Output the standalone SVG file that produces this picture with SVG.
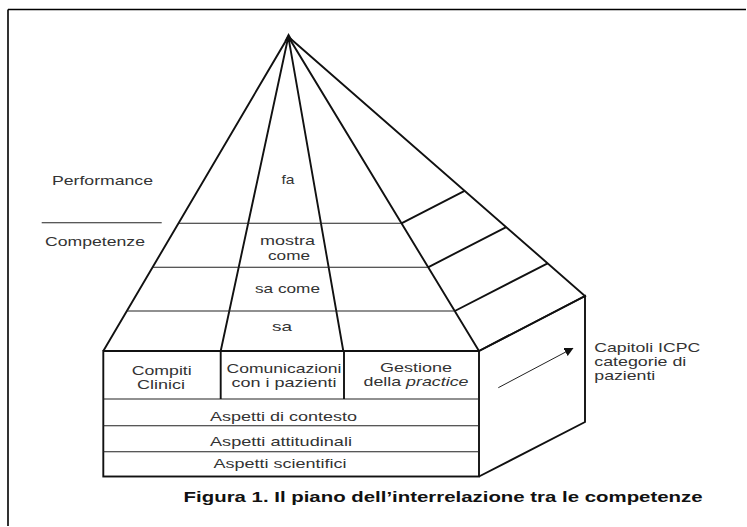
<svg xmlns="http://www.w3.org/2000/svg" width="747" height="527" viewBox="0 0 747 527">
<defs>
<style>
.t{font-family:"Liberation Sans",Arial,sans-serif;font-size:13px;fill:#333;}
.tm{text-anchor:middle;}
.cap{font-family:"Liberation Sans",Arial,sans-serif;font-size:15px;font-weight:bold;fill:#111;}
.e{stroke:#111;stroke-width:1.9;fill:none;stroke-linejoin:miter;}
.h{stroke:#222;stroke-width:1.1;fill:none;}
</style>
<marker id="ah" viewBox="0 0 10 10" refX="9" refY="5" markerWidth="9" markerHeight="9" markerUnits="userSpaceOnUse" orient="auto">
<path d="M0,0 L10,5 L0,10 z" fill="#111"/>
</marker>
</defs>
<rect width="747" height="527" fill="#fff"/>
<g id="frame">
<path d="M8,9.5 H746 M8,9.5 V526" stroke="#000" stroke-width="1.6" fill="none"/>
</g>
<g id="pyramid">
<polygon points="288.5,33 284.5,41 293,41" fill="#111"/>
<path class="e" d="M103.3,351 L288.3,36.7 L479,351"/>
<path class="e" d="M220.7,351 L288.3,36.7 L343.3,351"/>
<path class="e" d="M288.3,36.7 L585,296 L479,351"/>
<path class="h" d="M178.6,223.3 H401.4 M152.6,267.3 H428 M126.8,311 H454.8"/>
<path class="e" d="M401.4,223.3 L464.6,190.8 M428,267.3 L506.2,227.1 M454.8,311 L547.6,263.3"/>
</g>
<g id="base">
<rect x="103.3" y="351" width="375.7" height="125.5" class="e" stroke-width="1.6"/>
<path class="e" d="M103.3,351 H479"/>
<path class="h" d="M103.3,399 H479 M103.3,425.7 H479 M103.3,451.7 H479" stroke-width="1.3"/>
<path class="e" d="M220.7,351 V399 M344,351 V399" stroke-width="1.5"/>
</g>
<g id="side">
<path class="e" d="M479,351 L585,296 L585,422 L479,476.5" stroke-width="1.7"/>
</g>
<g id="level-labels">
<path class="h" d="M41.7,222.7 H161.7"/>
<text class="t tm" x="102.5" y="184.5" textLength="101" lengthAdjust="spacingAndGlyphs">Performance</text>
<text class="t tm" x="95" y="246" textLength="100" lengthAdjust="spacingAndGlyphs">Competenze</text>
</g>
<g id="pyramid-labels">
<text class="t tm" x="288" y="184" textLength="13" lengthAdjust="spacingAndGlyphs">fa</text>
<text class="t tm" x="287.5" y="245" textLength="55" lengthAdjust="spacingAndGlyphs">mostra</text>
<text class="t tm" x="289" y="259.5" textLength="42" lengthAdjust="spacingAndGlyphs">come</text>
<text class="t tm" x="287.5" y="292.5" textLength="65" lengthAdjust="spacingAndGlyphs">sa come</text>
<text class="t tm" x="282" y="330.5" textLength="20" lengthAdjust="spacingAndGlyphs">sa</text>
</g>
<g id="base-labels">
<text class="t tm" x="161.7" y="374.5" textLength="60" lengthAdjust="spacingAndGlyphs">Compiti</text>
<text class="t tm" x="161" y="389" textLength="48" lengthAdjust="spacingAndGlyphs">Clinici</text>
<text class="t tm" x="284" y="373" textLength="115" lengthAdjust="spacingAndGlyphs">Comunicazioni</text>
<text class="t tm" x="284" y="387" textLength="105" lengthAdjust="spacingAndGlyphs">con i pazienti</text>
<text class="t tm" x="416" y="372" textLength="72" lengthAdjust="spacingAndGlyphs">Gestione</text>
<text class="t tm" x="416" y="386" textLength="105" lengthAdjust="spacingAndGlyphs">della <tspan font-style="italic">practice</tspan></text>
<text class="t tm" x="283.5" y="421" textLength="147" lengthAdjust="spacingAndGlyphs">Aspetti di contesto</text>
<text class="t tm" x="281" y="446" textLength="142" lengthAdjust="spacingAndGlyphs">Aspetti attitudinali</text>
<text class="t tm" x="280" y="467.5" textLength="133" lengthAdjust="spacingAndGlyphs">Aspetti scientifici</text>
</g>
<g id="connectors">
<line x1="498.3" y1="387.7" x2="572.7" y2="348.3" stroke="#222" stroke-width="1" marker-end="url(#ah)"/>
</g>
<g id="side-label">
<text class="t" x="594.3" y="352" textLength="106" lengthAdjust="spacingAndGlyphs">Capitoli ICPC</text>
<text class="t" x="594.3" y="366" textLength="92" lengthAdjust="spacingAndGlyphs">categorie di</text>
<text class="t" x="594.3" y="379.5" textLength="61" lengthAdjust="spacingAndGlyphs">pazienti</text>
</g>
<g id="caption">
<text class="cap" x="183.6" y="501.5" textLength="519" lengthAdjust="spacingAndGlyphs">Figura 1. Il piano dell’interrelazione tra le competenze</text>
</g>
</svg>
